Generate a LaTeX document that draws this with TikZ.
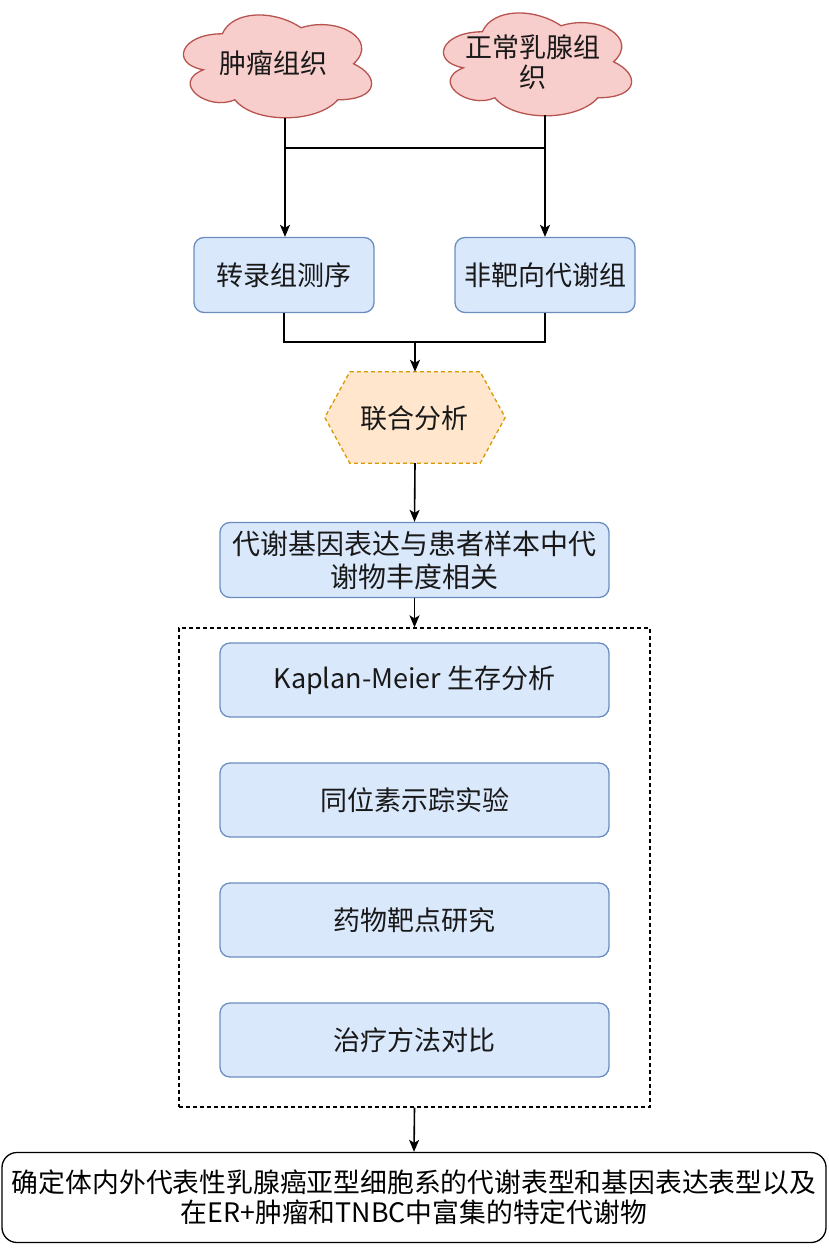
\documentclass[tikz,border=0pt]{standalone}
\usepackage{fontspec}
\setmainfont{Noto Sans CJK SC}
\usetikzlibrary{arrows.meta}
\definecolor{cloudfill}{HTML}{F8CECC}
\definecolor{cloudline}{HTML}{B85450}
\definecolor{boxfill}{HTML}{DAE8FC}
\definecolor{boxline}{HTML}{6C8EBF}
\definecolor{hexfill}{HTML}{FFE6CC}
\definecolor{hexline}{HTML}{D79B00}
\tikzset{
  bluebox/.style={rectangle, rounded corners=10pt, draw=boxline, fill=boxfill, line width=1.3pt,
    minimum width=389pt, minimum height=75pt, inner sep=0pt, align=center,
    font=\fontsize{27pt}{33pt}\selectfont, text=black!90},
  conn/.style={line width=1.6pt, draw=black},
  arr/.style={conn, -{Stealth[length=12pt,width=10pt,inset=3pt]}},
  cloudnode/.style={rectangle, draw=none, minimum width=210pt, minimum height=120pt, inner sep=0pt,
    align=center, font=\fontsize{27pt}{30pt}\selectfont, text=black!90},
  plainlabel/.style={font=\fontsize{27pt}{30pt}\selectfont, text=black!90, inner sep=0pt},
}
\newcommand{\drawiocloud}[1]{%
  \begin{scope}[shift={(#1.north west)}, x=210pt, y=-120pt]
    \draw[cloudline, fill=cloudfill, line width=1.3pt]
      (0.25,0.25) .. controls (0.05,0.25) and (0,0.5) .. (0.16,0.55)
      .. controls (0,0.66) and (0.18,0.9) .. (0.31,0.8)
      .. controls (0.4,1) and (0.7,1) .. (0.8,0.8)
      .. controls (1,0.8) and (1,0.6) .. (0.875,0.5)
      .. controls (1,0.3) and (0.8,0.1) .. (0.625,0.2)
      .. controls (0.5,0.05) and (0.3,0.05) .. (0.25,0.25) -- cycle;
  \end{scope}}
\begin{document}
\begin{tikzpicture}[x=1pt, y=-1pt]
\useasboundingbox (0,0) rectangle (829,1257);
\fill[white] (0,0) rectangle (829,1257);

% clouds
\node[cloudnode] (c1) at (275,64) {};
\drawiocloud{c1}
\node[cloudnode] (t1) at (273,63) {肿瘤组织};
\node[cloudnode] (c2) at (535,62) {};
\drawiocloud{c2}
\node[cloudnode] (t2) at (533,62) {正常乳腺组\\织};
\coordinate (c1b) at (285,118);
\coordinate (c2b) at (545,115);

% boxes row
\node[bluebox, minimum width=180pt] (b1) at (284,275) {转录组测序};
\node[bluebox, minimum width=180pt] (b2) at (545,275) {非靶向代谢组};

\draw[conn] (c1b |- 0,148) -- (c2b |- 0,148);
\draw[arr] (c1b) -- (c1b |- b1.north);
\draw[arr] (c2b) -- (c2b |- b2.north);

% hexagon
\node[rectangle, minimum width=180pt, minimum height=91pt, inner sep=0pt] (hex) at (415,417.5) {};
\draw[hexline, fill=hexfill, line width=1.3pt, dash pattern=on 4pt off 3pt]
  ([xshift=25pt]hex.north west) -- ([xshift=-25pt]hex.north east) -- (hex.east)
  -- ([xshift=-25pt]hex.south east) -- ([xshift=25pt]hex.south west) -- (hex.west) -- cycle;
\node[plainlabel] (hexlabel) at (414,418) {联合分析};

\coordinate (m) at (415,342);
\draw[conn] (b1.south) |- (m) -| (b2.south);
\draw[arr] (m) -- (hex.north);

% correlation box
\node[bluebox, font=\fontsize{28pt}{33pt}\selectfont] (b3) at (414.5,560) {代谢基因表达与患者样本中代\\谢物丰度相关};
\draw[arr] (hex.south) -- (b3.north);

% dashed container
\node[rectangle, draw=black, line width=1.3pt, dash pattern=on 4pt off 3pt,
  minimum width=471pt, minimum height=479pt, inner sep=0pt] (grp) at (414.5,867.5) {};
\draw[arr] (b3.south) -- (grp.north);

\node[bluebox, minimum height=74pt] (k1) at (414.5,680) {Kaplan-Meier 生存分析};
\node[bluebox, minimum height=74pt] (k2) at (414.5,800) {同位素示踪实验};
\node[bluebox, minimum height=74pt] (k3) at (414.5,920) {药物靶点研究};
\node[bluebox, minimum height=74pt] (k4) at (414.5,1040) {治疗方法对比};

% final box
\node[rectangle, rounded corners=15pt, draw=black, line width=1.3pt, fill=white,
  minimum width=824pt, minimum height=90pt, inner sep=0pt, align=center,
  font=\fontsize{26.8pt}{30pt}\selectfont, text=black] (fin) at (414,1197.5)
  {确定体内外代表性乳腺癌亚型细胞系的代谢表型和基因表达表型以及\\在ER+肿瘤和TNBC中富集的特定代谢物};
\draw[arr] (grp.south) -- (fin.north);
\end{tikzpicture}
\end{document}
